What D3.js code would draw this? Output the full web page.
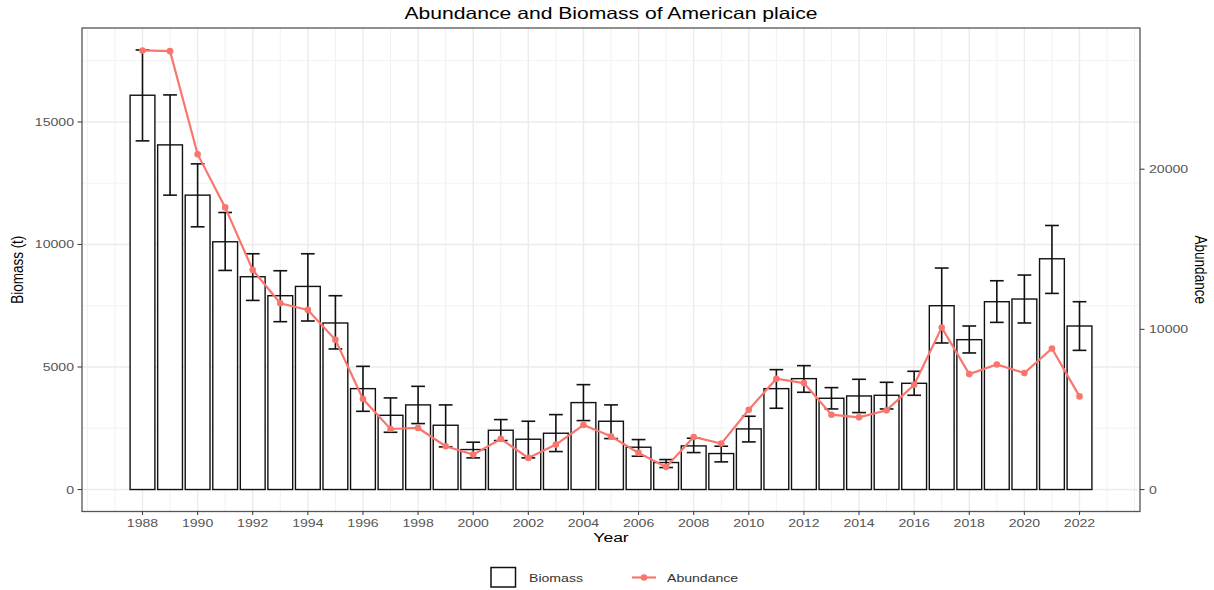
<!DOCTYPE html>
<html>
<head>
<meta charset="utf-8">
<script src="https://cdn.jsdelivr.net/npm/d3@7"></script>
<style>
  html, body { margin: 0; padding: 0; background: #fff; }
  svg { display: block; font-family: "Liberation Sans", Arial, sans-serif; }
</style>
</head>
<body>
<svg id="chart" width="1214" height="590"></svg>
<script>
// ---- data ----
const years = [1988,1989,1990,1991,1992,1993,1994,1995,1996,1997,1998,1999,2000,2001,2002,2003,2004,2005,2006,2007,2008,2009,2010,2011,2012,2013,2014,2015,2016,2017,2018,2019,2020,2021,2022];
const biomass = [16090,14064,12013,10110,8683,7909,8288,6796,4117,3029,3453,2623,1631,2419,2052,2297,3547,2786,1726,1101,1780,1468,2473,4117,4525,3724,3818,3846,4335,7501,6115,7664,7774,9417,6673];
const biomassLo = [14228,12013,10721,8940,7717,6849,6877,5736,3192,2336,2691,1740,1291,1998,1291,1549,2813,2079,1359,897,1508,1128,1943,3316,3968,3288,3139,3288,3846,5980,5573,6821,6796,8003,5679];
const biomassHi = [17937,16103,13290,11305,9621,8928,9621,7909,5027,3738,4211,3453,1930,2854,2786,3057,4280,3453,2038,1223,2093,1767,2990,4892,5055,4158,4498,4375,4824,9038,6673,8520,8752,10775,7664];
const abundance = [27414,27372,20935,17614,13707,11632,11215,9346,5648,3780,3842,2700,2181,3159,1974,2804,4029,3323,2285,1412,3281,2866,4984,6916,6646,4673,4507,4943,6542,10114,7207,7809,7269,8805,5815];
const xTicks = [1988,1990,1992,1994,1996,1998,2000,2002,2004,2006,2008,2010,2012,2014,2016,2018,2020,2022];
const xMinor = [1986,1987,1989,1991,1993,1995,1997,1999,2001,2003,2005,2007,2009,2011,2013,2015,2017,2019,2021,2023,2024];
const yTicksLeft = [0,5000,10000,15000];
const yMinorLeft = [2500,7500,12500,17500];
const yTicksRight = [0,10000,20000];
const secFactor = 1.53;

// ---- layout ----
const SX = 1.28; // horizontal text stretch of the reference
const panel = {left: 82, right: 1140, top: 28, bottom: 511.5};
const svg = d3.select("#chart");

const x = d3.scaleLinear().domain([1985.805, 2024.195]).range([panel.left, panel.right]);
const y = d3.scaleLinear().domain([-897, 18834]).range([panel.bottom, panel.top]);
const yR = d3.scaleLinear().domain([-897 * secFactor, 18834 * secFactor]).range([panel.bottom, panel.top]);

function txt(g, s, px, py, opts) {
  const t = g.append("text")
    .attr("transform", `translate(${px},${py}) scale(${SX},1)` + (opts.rotate ? ` rotate(${opts.rotate})` : ""))
    .attr("text-anchor", opts.anchor || "start")
    .attr("font-size", opts.size)
    .attr("fill", opts.fill || "#000")
    .text(s);
  if (opts.baseline) t.attr("dominant-baseline", opts.baseline);
  return t;
}

// grid
const grid = svg.append("g");
grid.selectAll(".hmin").data(yMinorLeft).join("line")
  .attr("x1", panel.left).attr("x2", panel.right)
  .attr("y1", d => y(d)).attr("y2", d => y(d))
  .attr("stroke", "#f3f3f3").attr("stroke-width", 1);
grid.selectAll(".vmin").data(xMinor).join("line")
  .attr("y1", panel.top).attr("y2", panel.bottom)
  .attr("x1", d => x(d)).attr("x2", d => x(d))
  .attr("stroke", "#f1f1f1").attr("stroke-width", 1);
grid.selectAll(".hmaj").data(yTicksLeft).join("line")
  .attr("x1", panel.left).attr("x2", panel.right)
  .attr("y1", d => y(d)).attr("y2", d => y(d))
  .attr("stroke", "#ebebeb").attr("stroke-width", 1.4);
grid.selectAll(".vmaj").data(xTicks).join("line")
  .attr("y1", panel.top).attr("y2", panel.bottom)
  .attr("x1", d => x(d)).attr("x2", d => x(d))
  .attr("stroke", "#ebebeb").attr("stroke-width", 1.4);

// bars
const bw = x(1988.9) - x(1988);
svg.append("g").selectAll("rect").data(years).join("rect")
  .attr("x", (d) => x(d) - bw / 2)
  .attr("width", bw)
  .attr("y", (d, i) => y(biomass[i]))
  .attr("height", (d, i) => y(0) - y(biomass[i]))
  .attr("fill", "#fff").attr("stroke", "#111").attr("stroke-width", 1.4);

// error bars
const cw = x(1988.25) - x(1988);
const eb = svg.append("g").attr("stroke", "#111").attr("stroke-width", 1.6).attr("fill", "none");
years.forEach((d, i) => {
  eb.append("line").attr("x1", x(d)).attr("x2", x(d)).attr("y1", y(biomassLo[i])).attr("y2", y(biomassHi[i]));
  eb.append("line").attr("x1", x(d) - cw).attr("x2", x(d) + cw).attr("y1", y(biomassLo[i])).attr("y2", y(biomassLo[i]));
  eb.append("line").attr("x1", x(d) - cw).attr("x2", x(d) + cw).attr("y1", y(biomassHi[i])).attr("y2", y(biomassHi[i]));
});

// abundance line
const lineGen = d3.line().x((d, i) => x(years[i])).y(d => yR(d));
svg.append("path").datum(abundance)
  .attr("d", lineGen).attr("fill", "none")
  .attr("stroke", "#F8766D").attr("stroke-width", 2.2);
svg.append("g").selectAll("circle").data(abundance).join("circle")
  .attr("cx", (d, i) => x(years[i])).attr("cy", d => yR(d))
  .attr("r", 3.3).attr("fill", "#F8766D");

// panel border
svg.append("rect")
  .attr("x", panel.left).attr("y", panel.top)
  .attr("width", panel.right - panel.left).attr("height", panel.bottom - panel.top)
  .attr("fill", "none").attr("stroke", "#555").attr("stroke-width", 1.3);

// axes ticks + labels
const axG = svg.append("g");
const labCol = "#555";
yTicksLeft.forEach(v => {
  axG.append("line").attr("x1", panel.left - 4.5).attr("x2", panel.left).attr("y1", y(v)).attr("y2", y(v)).attr("stroke", "#444").attr("stroke-width", 1.1);
  txt(axG, String(v), panel.left - 8, y(v) + 4, {anchor: "end", size: 11, fill: labCol});
});
yTicksRight.forEach(v => {
  axG.append("line").attr("x1", panel.right).attr("x2", panel.right + 4.5).attr("y1", yR(v)).attr("y2", yR(v)).attr("stroke", "#444").attr("stroke-width", 1.1);
  txt(axG, String(v), panel.right + 9, yR(v) + 4, {anchor: "start", size: 11, fill: labCol});
});
xTicks.forEach(v => {
  axG.append("line").attr("x1", x(v)).attr("x2", x(v)).attr("y1", panel.bottom).attr("y2", panel.bottom + 3.5).attr("stroke", "#444").attr("stroke-width", 1.1);
  txt(axG, String(v), x(v), 526.5, {anchor: "middle", size: 11, fill: labCol});
});

// titles
txt(svg, "Abundance and Biomass of American plaice", 611, 18.5, {anchor: "middle", size: 16.5});
txt(svg, "Year", 611, 542, {anchor: "middle", size: 13.7});
txt(svg, "Biomass (t)", 22.5, (panel.top + panel.bottom) / 2, {anchor: "middle", size: 13.5, rotate: -90});
txt(svg, "Abundance", 1195, (panel.top + panel.bottom) / 2, {anchor: "middle", size: 13.5, rotate: 90});

// legend
const lg = svg.append("g");
lg.append("rect").attr("x", 491).attr("y", 567.5).attr("width", 24.5).attr("height", 19.5)
  .attr("fill", "#fff").attr("stroke", "#111").attr("stroke-width", 1.5);
txt(lg, "Biomass", 529, 581.5, {size: 11, fill: "#333"});
lg.append("line").attr("x1", 632).attr("x2", 656).attr("y1", 577.5).attr("y2", 577.5)
  .attr("stroke", "#F8766D").attr("stroke-width", 2.2);
lg.append("circle").attr("cx", 644).attr("cy", 577.5).attr("r", 3.3).attr("fill", "#F8766D");
txt(lg, "Abundance", 667, 581.5, {size: 11, fill: "#333"});
</script>
</body>
</html>
